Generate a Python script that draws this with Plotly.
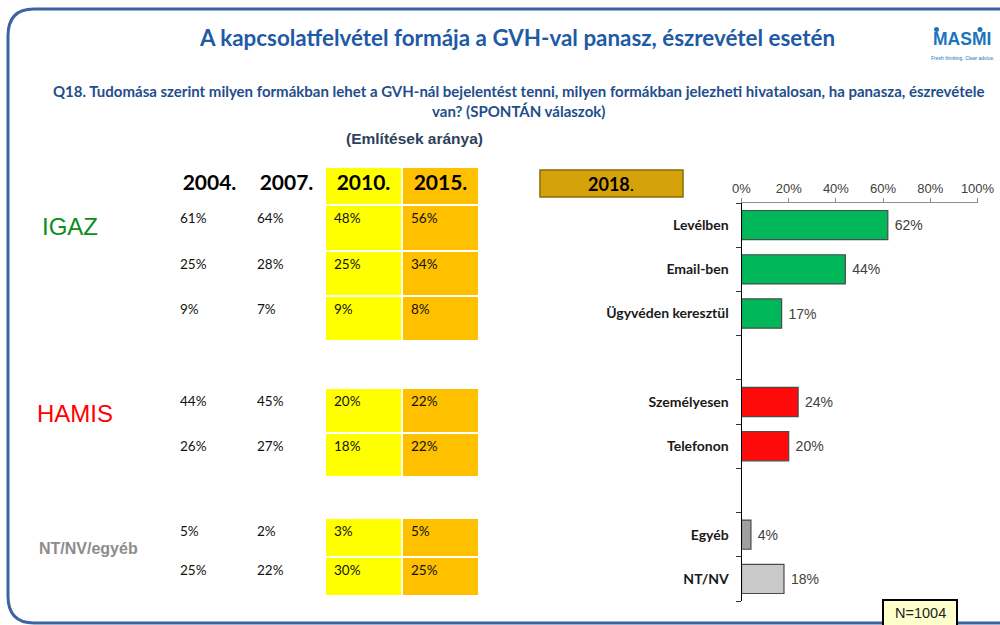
import plotly.graph_objects as go

# ---------------- data ----------------
years = ["2004.", "2007.", "2010.", "2015."]
v2004 = [61, 25, 9, 44, 26, 5, 25]
v2007 = [64, 28, 7, 45, 27, 2, 22]
v2010 = [48, 25, 9, 20, 18, 3, 30]
v2015 = [56, 34, 8, 22, 22, 5, 25]

categories = ["Levélben", "Email-ben", "Ügyvéden keresztül", "Személyesen",
              "Telefonon", "Egyéb", "NT/NV"]
values_2018 = [62, 44, 17, 24, 20, 4, 18]
groups = ["igaz", "igaz", "igaz", "hamis", "hamis", "egyeb", "ntnv"]

x_ticks = [0, 20, 40, 60, 80, 100]

# ---------------- layout helpers ----------------
W, H = 1000, 625
def px(x): return x / W
def py(y): return 1 - y / H

slots = [0, 1, 2, 4, 5, 7, 8]  # vertical slot of each bar (gaps between groups)
bar_colors = {"igaz": "#00B85A", "hamis": "#FF0A0A", "egyeb": "#A0A0A0", "ntnv": "#C9C9C9"}
calibri = "Lato, Carlito, 'Open Sans', sans-serif"
arial = "'Liberation Sans', Arial, sans-serif"

fig = go.Figure()

# ---------------- 2018 bar chart ----------------
fig.add_trace(go.Bar(
    x=values_2018, y=slots, orientation="h", width=0.66,
    marker=dict(color=[bar_colors[g] for g in groups], line=dict(color="#4a4a4a", width=1.2)),
    text=[f"\u00a0{v}%" for v in values_2018], textposition="outside",
    textfont=dict(family=arial, size=14, color="#404040"),
    cliponaxis=False, hoverinfo="skip", xaxis="x", yaxis="y",
))

# ---------------- table (2004-2015) ----------------
row_edges = [167, 205, 251, 296, 341, 388, 433, 477, 518, 557, 596]
row_kind = ["head", "d", "d", "d", "gap", "d", "d", "gap", "d", "d"]
z = []
for k in row_kind:
    z.append([None, None, None, None] if k == "gap" else [None, None, 1, 2])
fig.add_trace(go.Heatmap(
    z=z, x=[-0.5, 0.5, 1.5, 2.5, 3.5], y=row_edges,
    colorscale=[[0, "#FFFF00"], [0.5, "#FFFF00"], [0.5, "#FFC000"], [1, "#FFC000"]],
    zmin=1, zmax=2, showscale=False, xgap=2, ygap=2, hoverinfo="skip",
    xaxis="x2", yaxis="y2",
))
# header
fig.add_trace(go.Scatter(
    x=[0, 1, 2, 3], y=[(row_edges[0] + row_edges[1]) / 2 - 1] * 4, mode="text",
    text=years, textfont=dict(family=calibri, size=21, color="#000000", weight="bold"),
    hoverinfo="skip", xaxis="x2", yaxis="y2", showlegend=False,
))
data_tops = [row_edges[i] for i, k in enumerate(row_kind) if k == "d"]
cols = [v2004, v2007, v2010, v2015]
pad = 9 / 77
for ci, col in enumerate(cols):
    fig.add_trace(go.Scatter(
        x=[ci - 0.5 + pad] * len(col), y=[t + 15 for t in data_tops], mode="text",
        text=[f"{v}%" for v in col], textposition="middle right",
        textfont=dict(family=calibri, size=13.5, color="#111111"),
        hoverinfo="skip", xaxis="x2", yaxis="y2", showlegend=False,
    ))

annotations = []
def ann(x, y, text, size, color, family=arial, weight="normal", xanchor="center", yanchor="middle", **kw):
    annotations.append(dict(x=px(x), y=py(y), xref="paper", yref="paper", text=text,
                            showarrow=False, xanchor=xanchor, yanchor=yanchor,
                            font=dict(family=family, size=size, color=color, weight=weight), **kw))

ann(517, 38, "A kapcsolatfelvétel formája a GVH-val panasz, észrevétel esetén", 22.4, "#1F5AA6",
    family=calibri, weight="bold")
ann(518, 101, "Q18. Tudomása szerint milyen formákban lehet a GVH-nál bejelentést tenni, milyen formákban jelezheti hivatalosan, ha panasza, észrevétele<br>van? (SPONTÁN válaszok)",
    15, "#1F4E8C", family=calibri, weight="bold")
ann(414, 138, "(Említések aránya)", 15.5, "#2E3F5C", weight="bold")
ann(40, 227, "IGAZ", 24, "#0E8C1E", xanchor="left")
ann(35, 413, "HAMIS", 24, "#FF0000", xanchor="left")
ann(37, 548, "NT/NV/egyéb", 16, "#8C8C8C", weight="bold", xanchor="left")
ann(611, 184, "<b>2018</b>.", 18, "#000000", family=calibri)
ann(920, 613, "N=1004", 14.5, "#222222")
ann(962, 39, "MASMI", 17.5, "#1B75BC", weight="bold")
ann(962, 58, "Fresh thinking. Clear advice.", 5, "#1B75BC")

shapes = [
    # rounded frame
    dict(type="path", xref="paper", yref="paper",
         path=f"M 1.05,{py(9)} L {px(34)},{py(9)} Q {px(8)},{py(9)} {px(8)},{py(36)} "
              f"L {px(8)},{py(596)} Q {px(8)},{py(623)} {px(34)},{py(623)} L 1.05,{py(623)}",
         line=dict(color="#3D63A0", width=3)),
    # 2018 box
    dict(type="rect", xref="paper", yref="paper", x0=px(540), x1=px(683), y0=py(197), y1=py(170),
         fillcolor="#D6A20A", line=dict(color="#8A6A08", width=1.5), layer="below"),
    # N box
    dict(type="rect", xref="paper", yref="paper", x0=px(883), x1=px(957), y0=py(628), y1=py(600),
         fillcolor="#FFFFCC", line=dict(color="#000000", width=2)),
    # logo dots
    dict(type="circle", xref="paper", yref="paper", x0=px(934), x1=px(939), y0=py(32), y1=py(27),
         fillcolor="#1B75BC", line=dict(width=0)),
    dict(type="circle", xref="paper", yref="paper", x0=px(977.5), x1=px(982.5), y0=py(32), y1=py(27),
         fillcolor="#1B75BC", line=dict(width=0)),
]

fig.update_layout(
    width=W, height=H, margin=dict(l=0, r=0, t=0, b=0, autoexpand=False),
    paper_bgcolor="white", plot_bgcolor="rgba(0,0,0,0)", showlegend=False,
    annotations=annotations, shapes=shapes,
    xaxis=dict(domain=[px(741.5), px(977.5)], range=[0, 100], side="top", automargin=False,
               tickvals=x_ticks, ticktext=[f"{t}%" for t in x_ticks],
               showline=True, linecolor="#8C8C8C", linewidth=1, ticks="outside", ticklen=4,
               tickcolor="#8C8C8C", tickfont=dict(family=arial, size=13, color="#404040"),
               showgrid=False, zeroline=False, anchor="y", fixedrange=True),
    yaxis=dict(domain=[py(601), py(203)], range=[8.5, -0.5], tickvals=slots, ticktext=categories,
               automargin=False,
               ticks="", ticklabelstandoff=9, showline=True, linecolor="#000000", linewidth=1,
               tickfont=dict(family=calibri, size=14, color="#1A1A1A", weight="bold"),
               minor=dict(tickvals=[i - 0.5 for i in range(10)], ticks="outside", ticklen=5,
                          tickcolor="#333333", showgrid=False),
               showgrid=False, zeroline=False, anchor="x", fixedrange=True),
    xaxis2=dict(domain=[px(171), px(479)], range=[-0.5, 3.5], visible=False, anchor="y2",
                automargin=False),
    yaxis2=dict(domain=[0, 1], range=[H, 0], visible=False, anchor="x2", automargin=False),
)

fig.write_html("out.html", config={"displayModeBar": False},
               post_script="document.body.style.margin='0';document.body.style.overflow='hidden';")
